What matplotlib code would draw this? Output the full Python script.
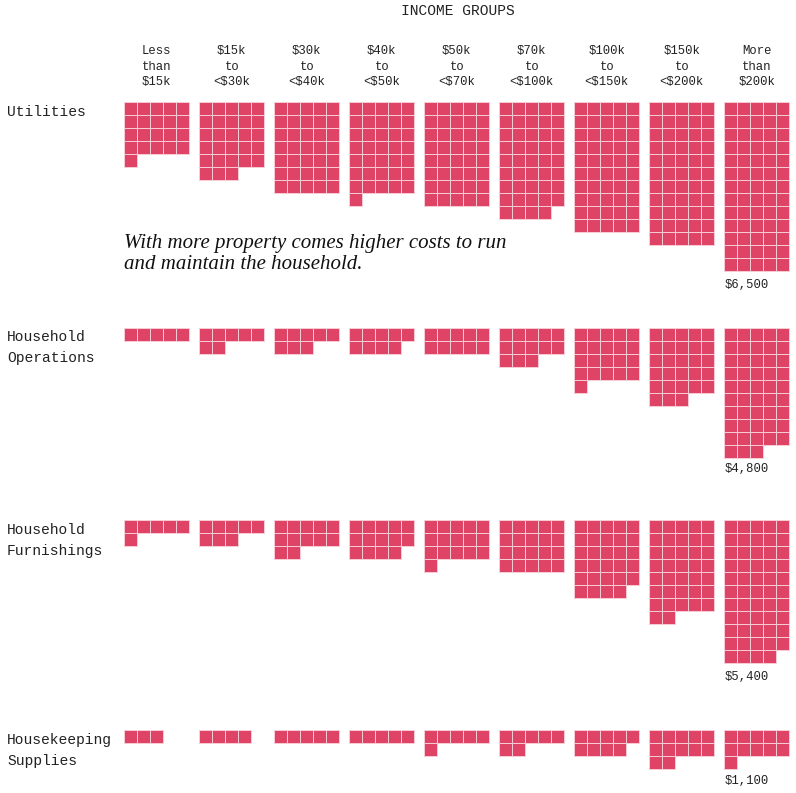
"""Household spending unit chart: one square per $100, by income group."""
import matplotlib
matplotlib.use("Agg")
import matplotlib.pyplot as plt

INCOME_GROUPS = [
    "Less\nthan\n$15k", "$15k\nto\n<$30k", "$30k\nto\n<$40k", "$40k\nto\n<$50k", "$50k\nto\n<$70k",
    "$70k\nto\n<$100k", "$100k\nto\n<$150k", "$150k\nto\n<$200k", "More\nthan\n$200k",
]
CATEGORIES = ["Utilities", "Household\nOperations", "Household\nFurnishings", "Housekeeping\nSupplies"]
VALUE_LABELS = ["$6,500", "$4,800", "$5,400", "$1,100"]

# squares per income group ($100 each)
UTILITIES = [21, 28, 35, 36, 40, 44, 50, 55, 65]
OPERATIONS = [5, 7, 8, 9, 10, 13, 21, 28, 48]
FURNISHINGS = [6, 8, 12, 14, 16, 20, 29, 37, 54]
SUPPLIES = [3, 4, 5, 5, 6, 7, 9, 12, 11]
SERIES = [UTILITIES, OPERATIONS, FURNISHINGS, SUPPLIES]

NOTE = "With more property comes higher costs to run\nand maintain the household."

# layout, in image pixels
ROW_TOPS = [102.3, 327.8, 520, 730]
LABEL_Y = [112, 347.5, 540.5, 750.5]
VALUE_Y = [284.5, 469.5, 677.5, 780.5]
COL_LEFT = 124.3
COL_STEP = 75
CELL = 13
PER_ROW = 5

RED = "#DF4467"
GRID = "#F7CDD6"
INK = "#222222"
MONO = "Liberation Mono"

fig = plt.figure(figsize=(7.96, 7.93), dpi=100, facecolor="white")
ax = fig.add_axes([0, 0, 1, 1])
ax.set_xlim(0, 796)
ax.set_ylim(793, 0)
ax.axis("off")

for top, counts in zip(ROW_TOPS, SERIES):
    for col, n in enumerate(counts):
        xs = [COL_LEFT + col * COL_STEP + (i % PER_ROW) * CELL for i in range(n)]
        ys = [top + (i // PER_ROW) * CELL for i in range(n)]
        ax.bar(xs, [CELL] * n, width=CELL, bottom=ys, align="edge",
               color=RED, edgecolor=GRID, linewidth=0.7)

ax.text(457.5, 11, "INCOME GROUPS", family=MONO, fontsize=10.5, color=INK, ha="center", va="center")

for col, label in enumerate(INCOME_GROUPS):
    ax.text(COL_LEFT + col * COL_STEP + 32.5, 66.5, label, family=MONO, fontsize=8.8, color=INK,
            ha="center", va="center", linespacing=1.43)

for y, label in zip(LABEL_Y, CATEGORIES):
    ax.text(7, y, label, family=MONO, fontsize=10.5, color=INK, ha="left", va="center", linespacing=1.6)

for y, label in zip(VALUE_Y, VALUE_LABELS):
    ax.text(725, y, label, family=MONO, fontsize=8.8, color=INK, ha="left", va="center")

ax.text(124.5, 254, NOTE, family="Liberation Serif", style="italic", fontsize=15, color="#111111",
        ha="left", va="center", linespacing=1.17)

fig.savefig("out.png", dpi=100)
